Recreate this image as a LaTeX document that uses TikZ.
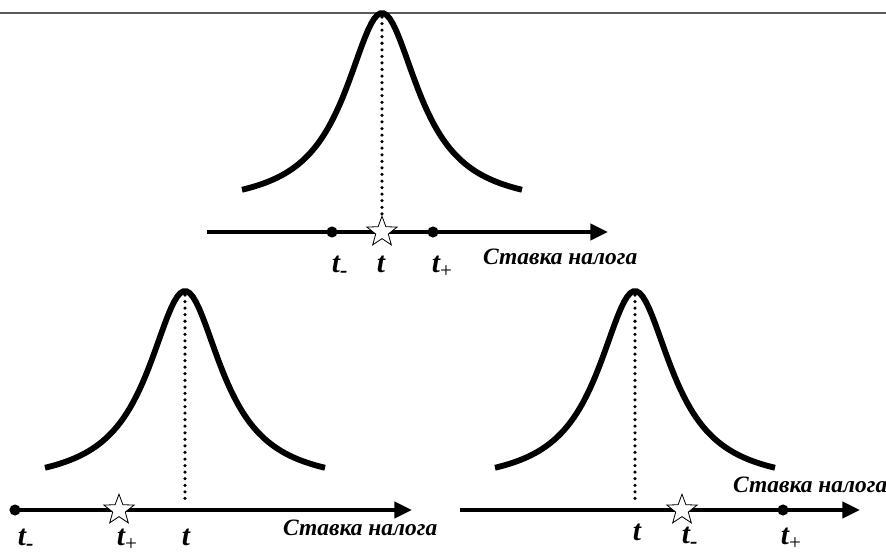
\documentclass[tikz,border=0pt]{standalone}
\usepackage{fontspec}
\setmainfont{Liberation Serif}
\usetikzlibrary{shapes.geometric, arrows.meta}

\newcommand{\tm}{\rlap{\raisebox{-0.18em}{\fontsize{19}{19}\selectfont\bfseries -}}}
\newcommand{\tp}{\rlap{\raisebox{-0.2em}{\fontsize{18}{18}\selectfont\mdseries\upshape +}}}
\newcommand{\bellat}[1]{\draw[bell, shift={#1}] plot[domain=-14:14, samples=90]
  ({10*\x}, {195*(\x*\x/(20.25+\x*\x))});}

\begin{document}
\begin{tikzpicture}[
  x={(0.03cm,0)}, y={(0,-0.03cm)},
  bell/.style={line width=5pt},
  axis/.style={line width=4.2pt, -{Triangle[length=15pt, width=13.5pt]}},
  guide/.style={line width=3pt, line cap=round, dash pattern=on 0pt off 5.6pt},
  pt/.style={circle, fill=black, inner sep=0pt, minimum size=9.5pt},
  opt/.style={star, star points=5, star point ratio=2.4, draw=black, fill=white,
              line width=0.7pt, inner sep=0pt, minimum size=27pt},
  tlab/.style={anchor=base, inner sep=0pt, font=\bfseries\itshape\fontsize{25}{27}\selectfont},
  xlab/.style={anchor=base west, inner sep=0pt, font=\bfseries\itshape\fontsize{20}{22}\selectfont}]

  \useasboundingbox (0,0) rectangle (886,554);

  % rule at the top
  \coordinate (rl) at (0,13);
  \coordinate (rr) at (886,13);
  \draw[gray!70!black, line width=1.1pt] (rl) -- (rr);

  % top panel
  \bellat{(382,13)}
  \coordinate (aT0) at (207,232);
  \coordinate (aT1) at (608,232);
  \draw[axis] (aT0) -- (aT1);
  \coordinate (pkT) at (382,17);
  \coordinate (ftT) at (382,218);
  \draw[guide] (pkT) -- (ftT);
  \node[pt]  (tmT) at (332,232) {};
  \node[opt] (stT) at (382,232) {};
  \node[pt]  (tpT) at (433,232) {};
  \node[tlab] (ltmT) at (336,272) {t\tm};
  \node[tlab] (ltT)  at (381,272) {t};
  \node[tlab] (ltpT) at (436,272) {t\tp};
  \node[xlab] (xT)   at (483,264) {Ставка налога};

  % bottom left panel
  \bellat{(185,291)}
  \coordinate (aL0) at (15,510);
  \coordinate (aL1) at (412,510);
  \draw[axis] (aL0) -- (aL1);
  \coordinate (pkL) at (185,295);
  \coordinate (ftL) at (185,500);
  \draw[guide] (pkL) -- (ftL);
  \node[pt]  (tmL) at (15,510) {};
  \node[opt] (stL) at (119,510) {};
  \node[tlab] (ltmL) at (22,545) {t\tm};
  \node[tlab] (ltpL) at (121,545) {t\tp};
  \node[tlab] (ltL)  at (186,545) {t};
  \node[xlab] (xL)   at (283,535) {Ставка налога};

  % bottom right panel
  \bellat{(635,291)}
  \coordinate (aR0) at (460,510);
  \coordinate (aR1) at (860,510);
  \draw[axis] (aR0) -- (aR1);
  \coordinate (pkR) at (635,295);
  \coordinate (ftR) at (635,500);
  \draw[guide] (pkR) -- (ftR);
  \node[opt] (stR) at (682,510) {};
  \node[pt]  (tpR) at (783,510) {};
  \node[tlab] (ltR)  at (637,540) {t};
  \node[tlab] (ltmR) at (686,543) {t\tm};
  \node[tlab] (ltpR) at (785,544) {t\tp};
  \node[xlab] (xR)   at (733,492) {Ставка налога};
\end{tikzpicture}
\end{document}
